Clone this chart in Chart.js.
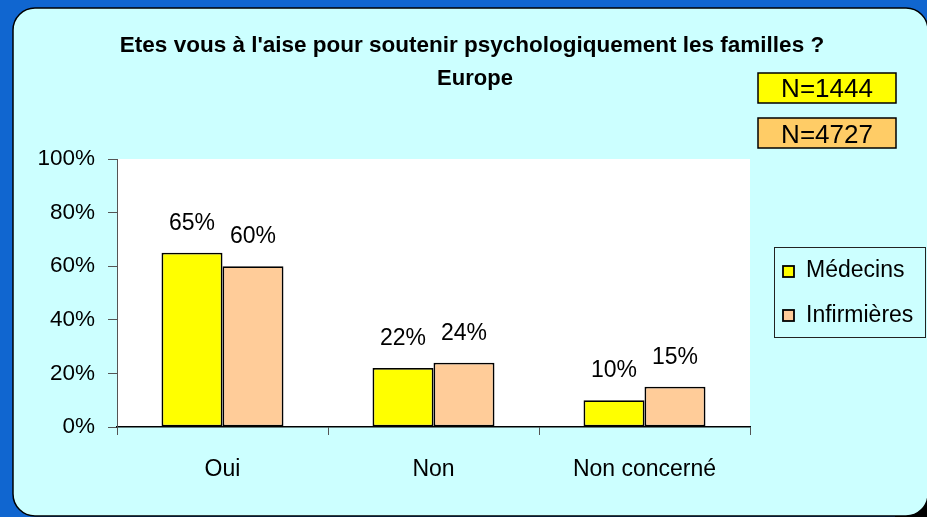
<!DOCTYPE html>
<html>
<head>
<meta charset="utf-8">
<script src="https://cdn.jsdelivr.net/npm/chart.js@4"></script>
<style>
  html, body { margin: 0; padding: 0; background: #1066d0; }
  canvas { display: block; }
</style>
</head>
<body>
<canvas id="chart" width="927" height="517"></canvas>
<script>
/* Données */
const categories = ['Oui', 'Non', 'Non concerné'];
const medecins = [65, 22, 10];
const infirmieres = [60, 24, 15];
const yTicks = [0, 20, 40, 60, 80, 100];
const seriesNames = ['Médecins', 'Infirmières'];
const effectifs = ['N=1444', 'N=4727'];

const FONT = '"Liberation Sans", Arial, sans-serif';
const JAUNE = '#ffff00';
const SAUMON = '#ffcc99';
const ORANGE_N = '#ffcc66';

/* Fond, cadre et textes autour */
const decor = {
  id: 'decor',
  beforeDraw(chart) {
    const c = chart.ctx;
    const a = chart.chartArea;
    c.save();
    c.fillStyle = '#1066d0';
    c.fillRect(0, 0, chart.width, chart.height);
    c.fillStyle = '#000';
    c.fillRect(895, 490, 32, 27);
    c.beginPath();
    c.roundRect(13, 8, 915, 508, 22);
    c.fillStyle = '#ccffff';
    c.fill();
    c.lineWidth = 1.5;
    c.strokeStyle = '#000';
    c.stroke();
    c.fillStyle = '#fff';
    c.fillRect(a.left, a.top, a.right - a.left, a.bottom - a.top);
    c.restore();
  },
  afterDatasetsDraw(chart) {
    const c = chart.ctx;
    c.save();
    c.font = '23px ' + FONT;
    c.fillStyle = '#000';
    c.textAlign = 'center';
    c.textBaseline = 'alphabetic';
    chart.data.datasets.forEach((ds, i) => {
      chart.getDatasetMeta(i).data.forEach((bar, j) => {
        c.fillText(ds.data[j] + '%', bar.x, bar.y - 23);
      });
    });
    c.restore();
  },
  afterDraw(chart) {
    const c = chart.ctx;
    c.save();
    c.fillStyle = '#000';
    c.textAlign = 'center';
    c.textBaseline = 'alphabetic';
    c.font = 'bold 22.5px ' + FONT;
    c.fillText("Etes vous à l'aise pour soutenir psychologiquement les familles ?", 472, 52);
    c.font = 'bold 22px ' + FONT;
    c.fillText('Europe', 475, 85);

    /* Effectifs */
    const boites = [[JAUNE, 73, 97], [ORANGE_N, 118, 143]];
    c.font = '26px ' + FONT;
    boites.forEach(([col, top, base], i) => {
      c.fillStyle = col;
      c.fillRect(758, top, 138, 30);
      c.lineWidth = 1.5;
      c.strokeStyle = '#000';
      c.strokeRect(758, top, 138, 30);
      c.fillStyle = '#000';
      c.fillText(effectifs[i], 827, base);
    });

    /* Légende */
    c.lineWidth = 1;
    c.strokeStyle = '#222';
    c.strokeRect(774.5, 247.5, 151, 90);
    c.textAlign = 'left';
    c.font = '23px ' + FONT;
    const cols = [JAUNE, SAUMON];
    [[266, 277], [310, 322]].forEach(([my, base], i) => {
      c.fillStyle = cols[i];
      c.fillRect(783, my, 11, 11);
      c.lineWidth = 1.8;
      c.strokeStyle = '#000';
      c.strokeRect(783, my, 11, 11);
      c.fillStyle = '#000';
      c.fillText(seriesNames[i], 806, base);
    });
    c.restore();
  }
};

new Chart(document.getElementById('chart'), {
  type: 'bar',
  data: {
    labels: categories,
    datasets: [
      {
        label: seriesNames[0],
        data: medecins,
        backgroundColor: JAUNE,
        borderColor: '#000',
        borderWidth: 1.8,
        borderSkipped: false
      },
      {
        label: seriesNames[1],
        data: infirmieres,
        backgroundColor: SAUMON,
        borderColor: '#000',
        borderWidth: 1.8,
        borderSkipped: false
      }
    ]
  },
  options: {
    responsive: false,
    devicePixelRatio: 1,
    animation: false,
    categoryPercentage: 0.578,
    barPercentage: 1.0,
    layout: { padding: { top: 159, right: 177, left: 0, bottom: 0 } },
    plugins: {
      legend: { display: false },
      title: { display: false },
      tooltip: { enabled: false }
    },
    scales: {
      x: {
        afterFit: s => { s.height = 90; },
        grid: { drawOnChartArea: false, tickLength: 8, color: '#555', offset: true },
        border: { display: true, color: '#000', width: 1.5 },
        ticks: { font: { family: FONT, size: 23 }, color: '#000', padding: 21 }
      },
      y: {
        min: 0,
        max: 100,
        afterFit: s => { s.width = 117; },
        afterBuildTicks: s => { s.ticks = yTicks.map(v => ({ value: v })); },
        grid: { drawOnChartArea: false, tickLength: 9, color: '#555' },
        border: { display: true, color: '#555', width: 1 },
        ticks: {
          font: { family: FONT, size: 22.5 },
          color: '#000',
          padding: 13,
          callback: v => v + '%'
        }
      }
    }
  },
  plugins: [decor]
});
</script>
</body>
</html>
